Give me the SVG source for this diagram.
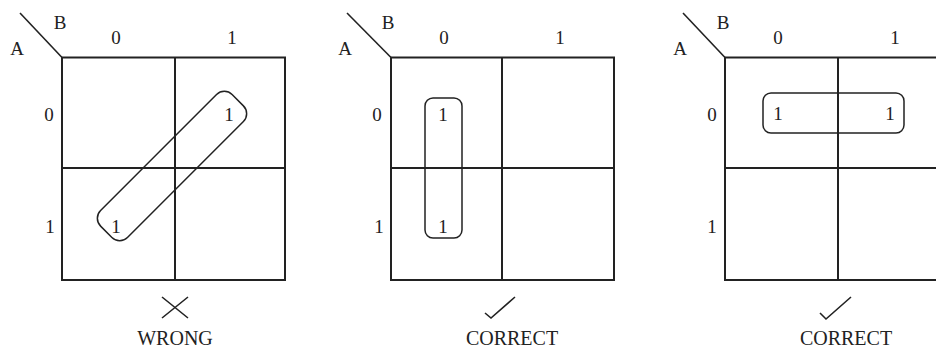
<svg xmlns="http://www.w3.org/2000/svg" width="936" height="350" viewBox="0 0 936 350">
<style>
.grid{fill:none;stroke:#222;stroke-width:2}
.thin{fill:none;stroke:#222;stroke-width:1.6}
.loop{fill:none;stroke:#222;stroke-width:1.5}
text{font-family:"Liberation Serif","Times New Roman",serif;fill:#222;text-anchor:middle}
.t{font-size:19px}
.lbl{font-size:20px}
</style>
<rect width="936" height="350" fill="#fff"/>
<g id="map-wrong">
<line class="thin" x1="20" y1="13" x2="62" y2="57.5"/>
<rect class="grid" x="62" y="57.5" width="223" height="222.5"/>
<line class="grid" x1="175" y1="57.5" x2="175" y2="280"/>
<line class="grid" x1="62" y1="168" x2="285" y2="168"/>
<text class="t" x="60" y="29">B</text>
<text class="t" x="17" y="55">A</text>
<text class="t" x="116" y="44">0</text>
<text class="t" x="232" y="44">1</text>
<text class="t" x="49" y="121">0</text>
<text class="t" x="50" y="233">1</text>
<text class="t" x="229" y="121">1</text>
<text class="t" x="116" y="233">1</text>
<rect class="loop" x="-93" y="-19" width="186" height="38" rx="11" transform="translate(172 166) rotate(-45)"/>
<path class="thin" d="M162 297 L188 318 M188 297 L162 318"/>
<text class="lbl" x="175" y="345">WRONG</text>
</g>
<g id="map-correct-1">
<line class="thin" x1="347" y1="13" x2="391" y2="57.5"/>
<rect class="grid" x="391" y="57.5" width="223" height="222.5"/>
<line class="grid" x1="502" y1="57.5" x2="502" y2="280"/>
<line class="grid" x1="391" y1="168" x2="614" y2="168"/>
<text class="t" x="388" y="29">B</text>
<text class="t" x="345" y="55">A</text>
<text class="t" x="444" y="44">0</text>
<text class="t" x="560" y="44">1</text>
<text class="t" x="377" y="121">0</text>
<text class="t" x="379" y="233">1</text>
<text class="t" x="443" y="121">1</text>
<text class="t" x="443" y="233">1</text>
<rect class="loop" x="425" y="98" width="37" height="140" rx="8"/>
<path class="thin" d="M485 313 L491 318 L515 297"/>
<text class="lbl" x="512" y="345">CORRECT</text>
</g>
<g id="map-correct-2">
<line class="thin" x1="683" y1="13" x2="725" y2="57.5"/>
<rect class="grid" x="725" y="57.5" width="223" height="222.5"/>
<line class="grid" x1="838" y1="57.5" x2="838" y2="280"/>
<line class="grid" x1="725" y1="168" x2="948" y2="168"/>
<text class="t" x="723" y="29">B</text>
<text class="t" x="680" y="55">A</text>
<text class="t" x="778" y="44">0</text>
<text class="t" x="895" y="44">1</text>
<text class="t" x="712" y="121">0</text>
<text class="t" x="712" y="233">1</text>
<text class="t" x="778" y="120">1</text>
<text class="t" x="890" y="120">1</text>
<rect class="loop" x="763" y="93" width="141" height="40" rx="8"/>
<path class="thin" d="M820 313 L826 319 L851 297"/>
<text class="lbl" x="846" y="345">CORRECT</text>
</g>
<g id="connectors"/>
</svg>
